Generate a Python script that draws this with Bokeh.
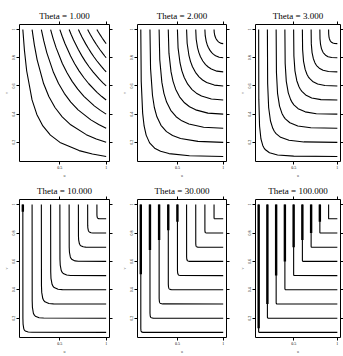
from bokeh.plotting import figure
from bokeh.layouts import row, column
from bokeh.models import Range1d, LinearAxis, FixedTicker, ColumnDataSource
from bokeh.embed import file_html
from bokeh.resources import INLINE

TITLES = ["Theta = 1.000", "Theta = 2.000", "Theta = 3.000",
          "Theta = 10.000", "Theta = 30.000", "Theta = 100.000"]
LEVELS = [0.1, 0.2, 0.3, 0.4, 0.5, 0.6, 0.7, 0.8, 0.9]
Y_TICKS = [0.2, 0.4, 0.6, 0.8, 1.0]
Y_TICK_LABELS = ["0.2", "0.4", "0.6", "0.8", "1"]
X_TICKS = [0.5, 1.0]
X_TICK_LABELS = ["0.5", "1"]
X_LABEL = "u"
Y_LABEL = "v"

# contour lines (u = x, v = y), one list per level
T1_U = [
    [0.1, 0.1175, 0.1413, 0.1995, 0.2512, 0.3162, 0.3981, 0.5012, 0.7079, 0.8511, 1.0],
    [0.2, 0.2238, 0.2546, 0.3241, 0.3807, 0.4472, 0.5253, 0.6171, 0.7856, 0.8935, 1.0],
    [0.3, 0.3264, 0.3594, 0.4305, 0.4856, 0.5477, 0.6178, 0.6968, 0.8348, 0.9192, 1.0],
    [0.4, 0.4265, 0.4589, 0.5266, 0.5771, 0.6325, 0.6931, 0.7597, 0.8716, 0.9379, 1.0],
    [0.5, 0.5249, 0.5548, 0.6156, 0.6598, 0.7071, 0.7579, 0.8123, 0.9013, 0.9526, 1.0],
    [0.6, 0.6218, 0.6478, 0.6994, 0.7360, 0.7746, 0.8152, 0.8579, 0.9262, 0.9649, 1.0],
    [0.7, 0.7177, 0.7385, 0.7790, 0.8073, 0.8367, 0.8670, 0.8985, 0.9479, 0.9753, 1.0],
    [0.8, 0.8126, 0.8272, 0.8554, 0.8747, 0.8944, 0.9146, 0.9353, 0.9671, 0.9845, 1.0],
    [0.9, 0.9067, 0.9143, 0.9289, 0.9387, 0.9487, 0.9587, 0.9689, 0.9843, 0.9926, 1.0],
]
T1_V = [
    [1.0, 0.8511, 0.7079, 0.5012, 0.3981, 0.3162, 0.2512, 0.1995, 0.1413, 0.1175, 0.1],
    [1.0, 0.8935, 0.7856, 0.6171, 0.5253, 0.4472, 0.3807, 0.3241, 0.2546, 0.2238, 0.2],
    [1.0, 0.9192, 0.8348, 0.6968, 0.6178, 0.5477, 0.4856, 0.4305, 0.3594, 0.3264, 0.3],
    [1.0, 0.9379, 0.8716, 0.7597, 0.6931, 0.6325, 0.5771, 0.5266, 0.4589, 0.4265, 0.4],
    [1.0, 0.9526, 0.9013, 0.8123, 0.7579, 0.7071, 0.6598, 0.6156, 0.5548, 0.5249, 0.5],
    [1.0, 0.9649, 0.9262, 0.8579, 0.8152, 0.7746, 0.7360, 0.6994, 0.6478, 0.6218, 0.6],
    [1.0, 0.9753, 0.9479, 0.8985, 0.8670, 0.8367, 0.8073, 0.7790, 0.7385, 0.7177, 0.7],
    [1.0, 0.9845, 0.9671, 0.9353, 0.9146, 0.8944, 0.8747, 0.8554, 0.8272, 0.8126, 0.8],
    [1.0, 0.9926, 0.9843, 0.9689, 0.9587, 0.9487, 0.9387, 0.9289, 0.9143, 0.9067, 0.9],
]

T2_U = [
    [0.1, 0.1047, 0.1202, 0.1361, 0.1585, 0.1963, 0.2512, 0.3162, 0.4074, 0.6310, 1.0],
    [0.2, 0.2065, 0.2275, 0.2481, 0.2759, 0.3205, 0.3807, 0.4472, 0.5339, 0.7248, 1.0],
    [0.3, 0.3073, 0.3303, 0.3525, 0.3817, 0.4269, 0.4856, 0.5477, 0.6253, 0.7860, 1.0],
    [0.4, 0.4074, 0.4304, 0.4523, 0.4805, 0.5232, 0.5771, 0.6325, 0.6995, 0.8326, 1.0],
    [0.5, 0.5070, 0.5285, 0.5487, 0.5743, 0.6126, 0.6598, 0.7071, 0.7632, 0.8706, 1.0],
    [0.6, 0.6062, 0.6250, 0.6425, 0.6645, 0.6969, 0.7360, 0.7746, 0.8194, 0.9029, 1.0],
    [0.7, 0.7050, 0.7203, 0.7343, 0.7518, 0.7771, 0.8073, 0.8367, 0.8701, 0.9311, 1.0],
    [0.8, 0.8036, 0.8144, 0.8243, 0.8365, 0.8541, 0.8747, 0.8944, 0.9167, 0.9564, 1.0],
    [0.9, 0.9019, 0.9076, 0.9128, 0.9192, 0.9282, 0.9387, 0.9487, 0.9597, 0.9791, 1.0],
]
T2_V = [
    [1.0, 0.6310, 0.4074, 0.3162, 0.2512, 0.1963, 0.1585, 0.1361, 0.1202, 0.1047, 0.1],
    [1.0, 0.7248, 0.5339, 0.4472, 0.3807, 0.3205, 0.2759, 0.2481, 0.2275, 0.2065, 0.2],
    [1.0, 0.7860, 0.6253, 0.5477, 0.4856, 0.4269, 0.3817, 0.3525, 0.3303, 0.3073, 0.3],
    [1.0, 0.8326, 0.6995, 0.6325, 0.5771, 0.5232, 0.4805, 0.4523, 0.4304, 0.4074, 0.4],
    [1.0, 0.8706, 0.7632, 0.7071, 0.6598, 0.6126, 0.5743, 0.5487, 0.5285, 0.5070, 0.5],
    [1.0, 0.9029, 0.8194, 0.7746, 0.7360, 0.6969, 0.6645, 0.6425, 0.6250, 0.6062, 0.6],
    [1.0, 0.9311, 0.8701, 0.8367, 0.8073, 0.7771, 0.7518, 0.7343, 0.7203, 0.7050, 0.7],
    [1.0, 0.9564, 0.9167, 0.8944, 0.8747, 0.8541, 0.8365, 0.8243, 0.8144, 0.8036, 0.8],
    [1.0, 0.9791, 0.9597, 0.9487, 0.9387, 0.9282, 0.9192, 0.9128, 0.9076, 0.9019, 0.9],
]

T3_U = [
    [0.1, 0.1021, 0.1104, 0.1262, 0.1469, 0.1607, 0.1778, 0.2239, 0.3162, 0.5012, 1.0],
    [0.2, 0.2029, 0.2143, 0.2353, 0.2617, 0.2786, 0.2991, 0.3513, 0.4472, 0.6171, 1.0],
    [0.3, 0.3034, 0.3161, 0.3388, 0.3668, 0.3844, 0.4054, 0.4572, 0.5477, 0.6968, 1.0],
    [0.4, 0.4033, 0.4161, 0.4388, 0.4661, 0.4831, 0.5030, 0.5513, 0.6325, 0.7597, 1.0],
    [0.5, 0.5031, 0.5151, 0.5363, 0.5614, 0.5767, 0.5946, 0.6373, 0.7071, 0.8123, 1.0],
    [0.6, 0.6028, 0.6134, 0.6318, 0.6534, 0.6666, 0.6817, 0.7175, 0.7746, 0.8579, 1.0],
    [0.7, 0.7022, 0.7108, 0.7257, 0.7430, 0.7534, 0.7653, 0.7931, 0.8367, 0.8985, 1.0],
    [0.8, 0.8016, 0.8077, 0.8182, 0.8304, 0.8376, 0.8459, 0.8650, 0.8944, 0.9353, 1.0],
    [0.9, 0.9009, 0.9041, 0.9096, 0.9160, 0.9197, 0.9240, 0.9338, 0.9487, 0.9689, 1.0],
]
T3_V = [
    [1.0, 0.5012, 0.3162, 0.2239, 0.1778, 0.1607, 0.1469, 0.1262, 0.1104, 0.1021, 0.1],
    [1.0, 0.6171, 0.4472, 0.3513, 0.2991, 0.2786, 0.2617, 0.2353, 0.2143, 0.2029, 0.2],
    [1.0, 0.6968, 0.5477, 0.4572, 0.4054, 0.3844, 0.3668, 0.3388, 0.3161, 0.3034, 0.3],
    [1.0, 0.7597, 0.6325, 0.5513, 0.5030, 0.4831, 0.4661, 0.4388, 0.4161, 0.4033, 0.4],
    [1.0, 0.8123, 0.7071, 0.6373, 0.5946, 0.5767, 0.5614, 0.5363, 0.5151, 0.5031, 0.5],
    [1.0, 0.8579, 0.7746, 0.7175, 0.6817, 0.6666, 0.6534, 0.6318, 0.6134, 0.6028, 0.6],
    [1.0, 0.8985, 0.8367, 0.7931, 0.7653, 0.7534, 0.7430, 0.7257, 0.7108, 0.7022, 0.7],
    [1.0, 0.9353, 0.8944, 0.8650, 0.8459, 0.8376, 0.8304, 0.8182, 0.8077, 0.8016, 0.8],
    [1.0, 0.9689, 0.9487, 0.9338, 0.9240, 0.9197, 0.9160, 0.9096, 0.9041, 0.9009, 0.9],
]

T10_U = [
    [0.1, 0.1007, 0.1026, 0.1102, 0.1167, 0.1259, 0.1585, 0.1995, 1.0],
    [0.2, 0.2010, 0.2036, 0.2140, 0.2228, 0.2349, 0.2759, 0.3241, 1.0],
    [0.3, 0.3011, 0.3040, 0.3156, 0.3252, 0.3384, 0.3817, 0.4305, 1.0],
    [0.4, 0.4012, 0.4040, 0.4157, 0.4253, 0.4384, 0.4805, 0.5266, 1.0],
    [0.5, 0.5010, 0.5039, 0.5148, 0.5237, 0.5359, 0.5743, 0.6156, 1.0],
    [0.6, 0.6009, 0.6034, 0.6130, 0.6209, 0.6314, 0.6645, 0.6994, 1.0],
    [0.7, 0.7007, 0.7027, 0.7106, 0.7169, 0.7254, 0.7518, 0.7790, 1.0],
    [0.8, 0.8005, 0.8020, 0.8075, 0.8120, 0.8181, 0.8365, 0.8554, 1.0],
    [0.9, 0.9003, 0.9010, 0.9040, 0.9064, 0.9095, 0.9192, 0.9289, 1.0],
]
T10_V = [
    [1.0, 0.1995, 0.1585, 0.1259, 0.1167, 0.1102, 0.1026, 0.1007, 0.1],
    [1.0, 0.3241, 0.2759, 0.2349, 0.2228, 0.2140, 0.2036, 0.2010, 0.2],
    [1.0, 0.4305, 0.3817, 0.3384, 0.3252, 0.3156, 0.3040, 0.3011, 0.3],
    [1.0, 0.5266, 0.4805, 0.4384, 0.4253, 0.4157, 0.4040, 0.4012, 0.4],
    [1.0, 0.6156, 0.5743, 0.5359, 0.5237, 0.5148, 0.5039, 0.5010, 0.5],
    [1.0, 0.6994, 0.6645, 0.6314, 0.6209, 0.6130, 0.6034, 0.6009, 0.6],
    [1.0, 0.7790, 0.7518, 0.7254, 0.7169, 0.7106, 0.7027, 0.7007, 0.7],
    [1.0, 0.8554, 0.8365, 0.8181, 0.8120, 0.8075, 0.8020, 0.8005, 0.8],
    [1.0, 0.9289, 0.9192, 0.9095, 0.9064, 0.9040, 0.9010, 0.9003, 0.9],
]

T30_U = [
    [0.1, 0.1003, 0.1019, 0.1040, 0.1054, 0.1072, 0.1122, 0.1259, 1.0],
    [0.2, 0.2005, 0.2026, 0.2055, 0.2075, 0.2099, 0.2168, 0.2349, 1.0],
    [0.3, 0.3005, 0.3029, 0.3062, 0.3084, 0.3110, 0.3186, 0.3384, 1.0],
    [0.4, 0.4005, 0.4029, 0.4063, 0.4085, 0.4111, 0.4188, 0.4384, 1.0],
    [0.5, 0.5005, 0.5028, 0.5059, 0.5080, 0.5105, 0.5176, 0.5359, 1.0],
    [0.6, 0.6004, 0.6025, 0.6052, 0.6071, 0.6093, 0.6155, 0.6314, 1.0],
    [0.7, 0.7004, 0.7020, 0.7043, 0.7058, 0.7075, 0.7126, 0.7254, 1.0],
    [0.8, 0.8002, 0.8014, 0.8030, 0.8041, 0.8054, 0.8090, 0.8180, 1.0],
    [0.9, 0.9001, 0.9008, 0.9016, 0.9022, 0.9029, 0.9048, 0.9095, 1.0],
]
T30_V = [
    [1.0, 0.1259, 0.1122, 0.1072, 0.1054, 0.1040, 0.1019, 0.1003, 0.1],
    [1.0, 0.2349, 0.2168, 0.2099, 0.2075, 0.2055, 0.2026, 0.2005, 0.2],
    [1.0, 0.3384, 0.3186, 0.3110, 0.3084, 0.3062, 0.3029, 0.3005, 0.3],
    [1.0, 0.4384, 0.4188, 0.4111, 0.4085, 0.4063, 0.4029, 0.4005, 0.4],
    [1.0, 0.5359, 0.5176, 0.5105, 0.5080, 0.5059, 0.5028, 0.5005, 0.5],
    [1.0, 0.6314, 0.6155, 0.6093, 0.6071, 0.6052, 0.6025, 0.6004, 0.6],
    [1.0, 0.7254, 0.7126, 0.7075, 0.7058, 0.7043, 0.7020, 0.7004, 0.7],
    [1.0, 0.8180, 0.8090, 0.8054, 0.8041, 0.8030, 0.8014, 0.8002, 0.8],
    [1.0, 0.9095, 0.9048, 0.9029, 0.9022, 0.9016, 0.9008, 0.9001, 0.9],
]

T100_U = [
    [0.1, 0.1001, 0.1006, 0.1016, 0.1035, 0.1072, 1.0],
    [0.2, 0.2002, 0.2008, 0.2022, 0.2049, 0.2099, 1.0],
    [0.3, 0.3002, 0.3009, 0.3025, 0.3055, 0.3110, 1.0],
    [0.4, 0.4002, 0.4009, 0.4025, 0.4055, 0.4111, 1.0],
    [0.5, 0.5002, 0.5009, 0.5024, 0.5052, 0.5105, 1.0],
    [0.6, 0.6002, 0.6008, 0.6021, 0.6046, 0.6093, 1.0],
    [0.7, 0.7001, 0.7006, 0.7017, 0.7038, 0.7075, 1.0],
    [0.8, 0.8001, 0.8004, 0.8012, 0.8027, 0.8054, 1.0],
    [0.9, 0.9000, 0.9002, 0.9007, 0.9014, 0.9029, 1.0],
]
T100_V = [
    [1.0, 0.1072, 0.1035, 0.1016, 0.1006, 0.1001, 0.1],
    [1.0, 0.2099, 0.2049, 0.2022, 0.2008, 0.2002, 0.2],
    [1.0, 0.3110, 0.3055, 0.3025, 0.3009, 0.3002, 0.3],
    [1.0, 0.4111, 0.4055, 0.4025, 0.4009, 0.4002, 0.4],
    [1.0, 0.5105, 0.5052, 0.5024, 0.5009, 0.5002, 0.5],
    [1.0, 0.6093, 0.6046, 0.6021, 0.6008, 0.6002, 0.6],
    [1.0, 0.7075, 0.7038, 0.7017, 0.7006, 0.7001, 0.7],
    [1.0, 0.8054, 0.8027, 0.8012, 0.8004, 0.8001, 0.8],
    [1.0, 0.9029, 0.9014, 0.9007, 0.9002, 0.9000, 0.9],
]

# heavier (doubled) stretches of the vertical parts: level, lower end
T1_THICK_U, T1_THICK_END = [], []
T2_THICK_U, T2_THICK_END = [], []
T3_THICK_U, T3_THICK_END = [], []
T10_THICK_U = [0.1]
T10_THICK_END = [0.95]
T30_THICK_U = [0.1, 0.2, 0.3, 0.4, 0.5]
T30_THICK_END = [0.51, 0.68, 0.75, 0.82, 0.88]
T100_THICK_U = [0.1, 0.2, 0.3, 0.4, 0.5, 0.6, 0.7, 0.8]
T100_THICK_END = [0.13, 0.3, 0.5, 0.6, 0.7, 0.75, 0.8, 0.88]

SERIF = "Liberation Serif"


def style_axis(ax, ticks, labels, show_labels, orient="horizontal"):
    ax.ticker = FixedTicker(ticks=ticks)
    ax.axis_line_color = None
    ax.major_tick_line_color = "black"
    ax.major_tick_line_width = 1
    ax.major_tick_out = 3
    ax.major_tick_in = 0
    ax.minor_tick_out = 0
    ax.minor_tick_in = 0
    ax.major_label_standoff = 1
    ax.major_label_text_font = SERIF
    ax.major_label_text_color = "black"
    if show_labels:
        ax.major_label_overrides = {t: l for t, l in zip(ticks, labels)}
        ax.major_label_text_font_size = "4px"
        ax.major_label_orientation = orient
    else:
        ax.major_label_overrides = {t: "" for t in ticks}
        ax.major_label_text_font_size = "1px"
        ax.major_label_standoff = 0


def make_panel(title, us, vs, tu, tend, w, h, bl, br, bt, bb):
    p = figure(width=w, height=h, output_backend="svg", toolbar_location=None,
               x_range=Range1d(0.064, 1.036), y_range=Range1d(0.064, 1.036),
               min_border_left=bl, min_border_right=br,
               min_border_top=bt, min_border_bottom=bb,
               background_fill_color="white", border_fill_color="white")
    p.grid.visible = False
    p.outline_line_color = "black"
    p.outline_line_width = 1
    p.outline_line_alpha = 1

    p.title.text = title
    p.title.align = "center"
    p.title.text_font = SERIF
    p.title.text_font_size = "9px"
    p.title.text_font_style = "normal"
    p.title.text_color = "black"
    p.title.standoff = 2
    p.title.offset = 0

    style_axis(p.xaxis[0], X_TICKS, X_TICK_LABELS, True)
    style_axis(p.yaxis[0], Y_TICKS, Y_TICK_LABELS, True, "vertical")
    for ax, lab in ((p.xaxis[0], X_LABEL), (p.yaxis[0], Y_LABEL)):
        ax.axis_label = lab
        ax.axis_label_text_font = SERIF
        ax.axis_label_text_font_size = "4px"
        ax.axis_label_text_font_style = "normal"
        ax.axis_label_standoff = 1

    top = LinearAxis()
    style_axis(top, X_TICKS, X_TICK_LABELS, False)
    p.add_layout(top, "above")
    right = LinearAxis()
    style_axis(right, Y_TICKS, Y_TICK_LABELS, False)
    p.add_layout(right, "right")

    src = ColumnDataSource(data=dict(xs=us, ys=vs))
    p.multi_line(xs="xs", ys="ys", source=src, line_color="black", line_width=1.1)
    if tu:
        tsrc = ColumnDataSource(data=dict(x=tu, y0=[1.0] * len(tu), y1=tend))
        p.segment(x0="x", y0="y0", x1="x", y1="y1", source=tsrc,
                  line_color="black", line_width=2.4)
    return p


COL_W = [118, 118, 107]
COL_BL = [15, 19, 17]
COL_BR = [9, 10, 3]
ROW_H = [180, 176]
ROW_BT = [24, 19]
ROW_BB = [14, 15]

panels_data = [
    (T1_U, T1_V, T1_THICK_U, T1_THICK_END),
    (T2_U, T2_V, T2_THICK_U, T2_THICK_END),
    (T3_U, T3_V, T3_THICK_U, T3_THICK_END),
    (T10_U, T10_V, T10_THICK_U, T10_THICK_END),
    (T30_U, T30_V, T30_THICK_U, T30_THICK_END),
    (T100_U, T100_V, T100_THICK_U, T100_THICK_END),
]

rows = []
for r in range(2):
    figs = []
    for c in range(3):
        i = r * 3 + c
        us, vs, tu, tend = panels_data[i]
        figs.append(make_panel(TITLES[i], us, vs, tu, tend,
                               COL_W[c], ROW_H[r], COL_BL[c], COL_BR[c],
                               ROW_BT[r], ROW_BB[r]))
    rows.append(row(*figs, spacing=0))

layout = column(*rows, spacing=0)

open("out.html", "w").write(file_html(layout, INLINE))
